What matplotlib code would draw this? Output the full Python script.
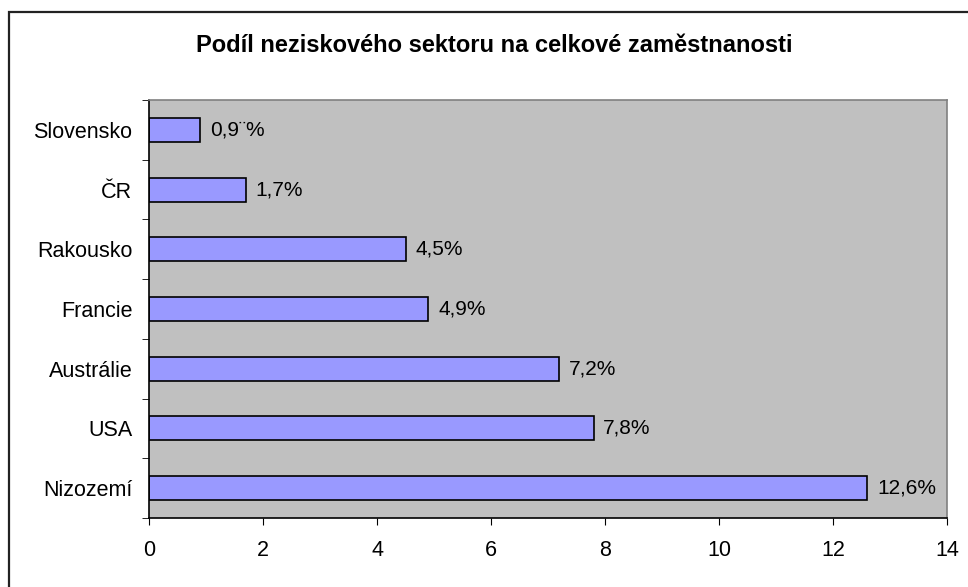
import matplotlib.pyplot as plt
from matplotlib.patches import Rectangle
from matplotlib.ticker import MultipleLocator

plt.rcParams['font.family'] = ['Liberation Sans', 'DejaVu Sans']

zeme = ["Slovensko", "ČR", "Rakousko", "Francie", "Austrálie", "USA", "Nizozemí"]
podil = [0.9, 1.7, 4.5, 4.9, 7.2, 7.8, 12.6]
popisky = ["0,9¨%", "1,7%", "4,5%", "4,9%", "7,2%", "7,8%", "12,6%"]

fig = plt.figure(figsize=(9.68, 5.87), dpi=100)
ax = fig.add_axes([149 / 968, 1 - 518 / 587, (947 - 149) / 968, (518 - 100) / 587])

# ramecek kolem celeho grafu
fig.patches.append(Rectangle((9 / 968, -0.1), 1.1, 1 - 12 / 587 + 0.1,
                             transform=fig.transFigure, fill=False,
                             edgecolor="#222222", linewidth=1.6))

pozice = range(len(zeme))
ax.barh(pozice, podil, height=0.4, color="#9999FF", edgecolor="black", linewidth=1.2)
for y, v, t in zip(pozice, podil, popisky):
    ax.annotate(t, (v, y), xytext=(7, 0), textcoords="offset points",
                va="center", ha="left", fontsize=15)

ax.set_facecolor("#C0C0C0")
ax.set_xlim(0, 14)
ax.set_ylim(len(zeme) - 0.5, -0.5)
ax.xaxis.set_major_locator(MultipleLocator(2))
ax.set_yticks(list(pozice))
ax.set_yticklabels(zeme)
ax.set_yticks([i - 0.5 for i in range(len(zeme) + 1)], minor=True)
ax.tick_params(axis="y", which="major", length=0, pad=12, labelsize=15.5)
ax.tick_params(axis="y", which="minor", length=5, direction="out")
ax.tick_params(axis="x", length=5, direction="out", pad=11, labelsize=15.5)

for s in ["top", "right"]:
    ax.spines[s].set_color("#808080")
    ax.spines[s].set_linewidth(1.2)
for s in ["left", "bottom"]:
    ax.spines[s].set_color("black")
    ax.spines[s].set_linewidth(1.2)

fig.text(494 / 968, 1 - 45 / 587, "Podíl neziskového sektoru na celkové zaměstnanosti",
         ha="center", va="center", fontsize=17, fontweight="bold")

fig.savefig("out.png", dpi=100)
